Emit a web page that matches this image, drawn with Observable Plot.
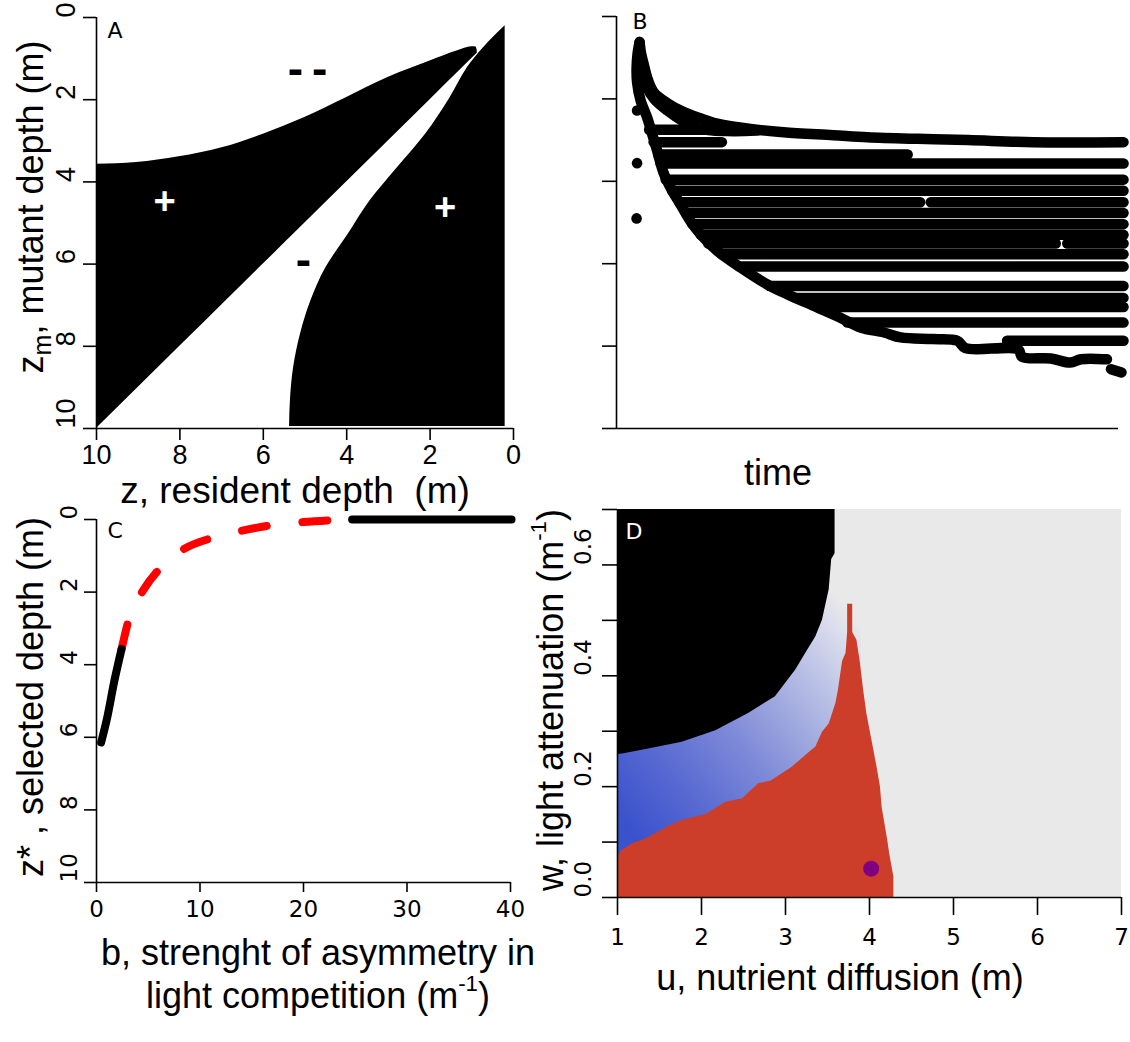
<!DOCTYPE html>
<html>
<head>
<meta charset="utf-8">
<script src="https://cdn.jsdelivr.net/npm/d3@7"></script>
<script src="https://cdn.jsdelivr.net/npm/@observablehq/plot@0.6"></script>
<style>
  html, body { margin: 0; padding: 0; background: #fff; }
  #fig { position: relative; width: 1130px; height: 1042px; overflow: hidden; background: #fff;
         font-family: "Liberation Sans", Arial, sans-serif; color: #000; }
  .panel { position: absolute; }
  .lab { position: absolute; white-space: pre; font-size: 36px; line-height: 1;
         transform: translate(-50%, -50%); }
  .lab.rot { transform: translate(-50%, -50%) rotate(-90deg); }
  .lab sup { font-size: 0.62em; vertical-align: 0.75em; line-height: 0; }
  .lab sub { font-size: 0.7em; vertical-align: -0.3em; line-height: 0; }
</style>
</head>
<body>
<div id="fig"></div>
<script>
// ---------------- Panel A : invasion fitness sign map ----------------
const aTicks = [0, 2, 4, 6, 8, 10];
// upper-left black region: resident depth z and its upper boundary zm (lower boundary is zm = z)
const aLeftZ   = [10, 9.04, 8.02, 6.99, 6.0, 5.02, 4.01, 3.01, 2.0, 1.34, 1.0, 0.9, 0.87];
const aLeftTop = [3.57, 3.53, 3.39, 3.17, 2.84, 2.44, 1.95, 1.46, 1.06, 0.81, 0.71, 0.72, 0.80];
// right black region: mutant depth zm and its left boundary z (right edge at aEdgeZ)
const aRightZm = [0.2, 0.6, 1.1, 2.0, 2.84, 3.65, 4.46, 5.3, 6.09, 6.9, 7.71, 8.5, 9.33, 9.95];
const aRightZ  = [0.2, 0.6, 1.02, 1.55, 2.11, 2.78, 3.44, 3.98, 4.5, 4.86, 5.11, 5.27, 5.35, 5.37];
const aEdgeZ = 0.2;
const aDashZ  = [5.23, 4.65, 5.04];
const aDashZm = [1.27, 1.27, 5.91];
const aPlusZ  = [8.37, 1.64];
const aPlusZm = [4.49, 4.63];

// ---------------- Panel B : branching of depth traits through time ----------------
const bTicks = [0, 2, 4, 6, 8, 10];
const bUpper = [[4.6,0.62],[4.9,0.9],[5.4,1.15],[6.3,1.55],[7.5,1.85],[10.1,2.1],[13.4,2.32],[16.7,2.47],
  [20.1,2.6],[26.7,2.73],[33.3,2.81],[43.2,2.88],[50,2.93],[60,2.97],[70,3.0],[83,3.05],[101,3.05]];
const bLower = [[4.6,0.62],[4.2,0.9],[4.0,1.25],[4.1,1.6],[4.8,2.04],[6.1,2.45],[7.1,2.85],[8.1,3.26],
  [9.4,3.8],[11.1,4.23],[12.7,4.55],[14.7,4.96],[16.7,5.28],[20.1,5.69],[24.7,6.09],[30,6.5],[34,6.74],
  [40,7.06],[44.6,7.31],[48.6,7.55],[53.3,7.67],[56.6,7.79],[63,7.83],[67.9,7.87],[69.5,8.05],[80,8.08],
  [80.8,8.26],[86.5,8.3],[90.4,8.4],[92.5,8.32],[97.7,8.32]];
const bInner = [[5.0,1.3],[6.0,1.7],[7.5,2.0],[10.1,2.28],[13.4,2.55],[16.5,2.72],[22,2.78],[28,2.77]];
const bTail  = [[98.5,8.56],[100.6,8.64]];
const bSegD  = [2.75, 3.05, 3.35, 3.57, 3.96, 4.23, 4.51, 4.51, 4.77, 5.04, 5.30, 5.51, 5.51, 5.77, 6.07, 6.54, 6.83, 7.05, 7.43, 7.87];
const bSegT0 = [6.5,  7.4,  8.3,  8.8,  9.8,  11.1, 12.5, 62.6, 13.8, 15.1, 16.8, 18.3, 89.8, 21,   24.6, 30.5, 36,   40,   46,   77.8];
const bSegT1 = [21,   21,   58,   101,  101,  101,  60.5, 101,  101,  101,  101,  87.5, 101,  101,  101,  101,  101,  101,  101,  101];
const bDotT = [4.1, 4.1, 4.0];
const bDotD = [2.28, 3.56, 4.9];

// ---------------- Panel C : selected depth vs asymmetry ----------------
const cTicksX = [0, 10, 20, 30, 40];
const cTicksY = [0, 2, 4, 6, 8, 10];
const cSolid1B = [0.45, 1.04, 1.73, 2.42];
const cSolid1Z = [6.14, 5.45, 4.44, 3.57];
const cDashB = [2.42, 3.28, 4.49, 6.39, 8.47, 11.4, 14.2, 17.1, 20.0, 23.2];
const cDashZ = [3.57, 2.60, 1.96, 1.27, 0.81, 0.49, 0.30, 0.15, 0.07, 0.01];
const cSolid2B = [24.7, 40.1];
const cSolid2Z = [0, 0];

// ---------------- Panel D : outcome map over (u, w) ----------------
const dTicksX = [1, 2, 3, 4, 5, 6, 7];
const dTicksY = [0, 0.1, 0.2, 0.3, 0.4, 0.5, 0.6, 0.7];
const dLabelsY = [0, 0.2, 0.4, 0.6];
const dBlackU = [1.0, 1.06, 1.37, 1.77, 2.17, 2.56, 2.88, 3.12, 3.24, 3.36, 3.44, 3.52, 3.55, 3.59, 3.59];
const dBlackW = [0.258, 0.259, 0.268, 0.28, 0.301, 0.332, 0.362, 0.41, 0.44, 0.47, 0.50, 0.555, 0.61, 0.62, 0.70];
const dRedU = [1.0, 1.05, 1.19, 1.33, 1.63, 1.77, 2.06, 2.29, 2.49, 2.68, 2.83, 3.08, 3.31, 3.36, 3.44, 3.52,
  3.60, 3.63, 3.68, 3.72, 3.74, 3.74, 3.80, 3.80, 3.85, 3.89, 3.93, 3.97, 4.03, 4.09, 4.13, 4.15, 4.19, 4.22, 4.24, 4.29, 4.29];
const dRedW = [0.072, 0.085, 0.098, 0.105, 0.130, 0.139, 0.150, 0.172, 0.178, 0.205, 0.210, 0.235, 0.265, 0.271, 0.298, 0.313,
  0.35, 0.374, 0.426, 0.44, 0.478, 0.529, 0.529, 0.478, 0.464, 0.425, 0.374, 0.33, 0.283, 0.235, 0.20, 0.163, 0.127, 0.10, 0.079, 0.037, 0];
const dDotU = [4.02];
const dDotW = [0.052];
const dGradFrom = [1.0, 0.15];
const dGradTo = [3.85, 0.5];
const dGradOffset = [0, 0.2, 0.45, 0.65, 0.8, 0.92, 1];
const dGradColor = ["#3a52cc", "#5567d1", "#7d89d8", "#a3acdf", "#c0c6e7", "#d9dcec", "#e9e9e9"];

// ---------------- helpers ----------------
const SANS = "Liberation Sans, Arial, sans-serif";
const DEJA = "DejaVu Sans, Verdana, sans-serif";
const fig = document.getElementById("fig");
function place(el, left, top) {
  const w = document.createElement("div");
  w.className = "panel"; w.style.left = left + "px"; w.style.top = top + "px";
  w.appendChild(el); fig.appendChild(w);
}
function label(html, cx, cy, rot, size) {
  const d = document.createElement("div");
  d.className = "lab" + (rot ? " rot" : "");
  d.style.left = cx + "px"; d.style.top = cy + "px";
  if (size) d.style.fontSize = size + "px";
  d.innerHTML = html; fig.appendChild(d);
}
const pstyle = {background: "transparent", overflow: "visible"};
const pair = {x: d => d[0], y: d => d[1]};

// ---------------- Panel A ----------------
const pA = Plot.plot({
  width: 560, height: 500, marginLeft: 96, marginRight: 47, marginTop: 17, marginBottom: 72,
  style: pstyle,
  x: {domain: [0, 10], reverse: true, label: null},
  y: {domain: [0, 10], reverse: true, label: null},
  marks: [
    Plot.areaY(aLeftZ, {x: z => z, y1: (z, i) => aLeftTop[i], y2: z => z, fill: "black", curve: "monotone-x"}),
    Plot.areaX(aRightZm, {y: zm => zm, x1: (zm, i) => aRightZ[i], x2: () => aEdgeZ, fill: "black", curve: "monotone-y"}),
    Plot.text(aDashZ, {x: d => d, y: (d, i) => aDashZm[i], text: () => "-", fontSize: 46, fontWeight: "bold", fontFamily: SANS, fill: "black"}),
    Plot.text(aPlusZ, {x: d => d, y: (d, i) => aPlusZm[i], text: () => "+", fontSize: 38, fontWeight: "bold", fontFamily: SANS, fill: "white"}),
    Plot.ruleX([10], {y1: 0, y2: 10, strokeWidth: 1.6}),
    Plot.ruleY([10], {x1: 10, x2: 0, strokeWidth: 1.6}),
    Plot.axisX({ticks: aTicks, tickSize: 12, tickPadding: 4, fontSize: 27, fontFamily: SANS, strokeWidth: 1.6, label: null, tickFormat: d => String(d)}),
    Plot.axisY({ticks: aTicks, tickSize: 13, tickFormat: () => "", strokeWidth: 1.6, label: null}),
    Plot.text(aTicks, {y: d => d, text: d => String(d), frameAnchor: "left", dx: -30, rotate: -90, fontSize: 27, fontFamily: SANS}),
    Plot.text(["A"], {text: d => d, frameAnchor: "top-left", dx: 11, dy: 5, textAnchor: "start", lineAnchor: "top", fontSize: 22, fontFamily: DEJA})
  ]
});
place(pA, 0, 0);

// ---------------- Panel B ----------------
const lineOpts = {...pair, strokeWidth: 10.5, strokeLinecap: "round", strokeLinejoin: "round", curve: "catmull-rom"};
const pB = Plot.plot({
  width: 570, height: 500, marginLeft: 56, marginRight: 12, marginTop: 16, marginBottom: 72,
  style: pstyle,
  x: {domain: [0, 100], axis: null, label: null},
  y: {domain: [0, 10], reverse: true, label: null},
  marks: [
    Plot.line(bUpper, lineOpts),
    Plot.line(bLower, lineOpts),
    Plot.line(bInner, lineOpts),
    Plot.line(bTail, lineOpts),
    Plot.link(bSegD, {x1: (d, i) => bSegT0[i], x2: (d, i) => bSegT1[i], y1: d => d, y2: d => d,
      strokeWidth: 10.5, strokeLinecap: "round", stroke: "black"}),
    Plot.dot(bDotT, {x: d => d, y: (d, i) => bDotD[i], r: 5.3, fill: "black"}),
    Plot.ruleX([0], {y1: 0, y2: 10, strokeWidth: 1.6}),
    Plot.ruleY([10], {x1: 0, x2: 100, strokeWidth: 1.6}),
    Plot.axisY({ticks: bTicks, tickSize: 14, tickFormat: () => "", strokeWidth: 1.6, label: null}),
    Plot.text(["B"], {text: d => d, frameAnchor: "top-left", dx: 16, dy: -3, textAnchor: "start", lineAnchor: "top", fontSize: 22, fontFamily: DEJA})
  ]
});
place(pB, 560, 0);

// ---------------- Panel C ----------------
const pC = Plot.plot({
  width: 560, height: 542, marginLeft: 96, marginRight: 50, marginTop: 19, marginBottom: 160,
  style: pstyle,
  x: {domain: [0, 40], label: null},
  y: {domain: [0, 10], reverse: true, label: null},
  marks: [
    Plot.line(cDashB, {x: d => d, y: (d, i) => cDashZ[i], stroke: "#ff0000", strokeWidth: 8, strokeLinecap: "round",
      strokeDasharray: "25,36", curve: "monotone-x"}),
    Plot.line(cSolid1B, {x: d => d, y: (d, i) => cSolid1Z[i], stroke: "black", strokeWidth: 8, strokeLinecap: "round", curve: "monotone-x"}),
    Plot.line(cSolid2B, {x: d => d, y: (d, i) => cSolid2Z[i], stroke: "black", strokeWidth: 8, strokeLinecap: "round"}),
    Plot.ruleX([0], {y1: 0, y2: 10, strokeWidth: 1.6}),
    Plot.ruleY([10], {x1: 0, x2: 40, strokeWidth: 1.6}),
    Plot.axisX({ticks: cTicksX, tickSize: 10, tickPadding: 8, fontSize: 23, fontFamily: DEJA, strokeWidth: 1.6, label: null, tickFormat: d => String(d)}),
    Plot.axisY({ticks: cTicksY, tickSize: 12, tickFormat: () => "", strokeWidth: 1.6, label: null}),
    Plot.text(cTicksY, {y: d => d, text: d => String(d), frameAnchor: "left", dx: -27, rotate: -90, fontSize: 23, fontFamily: DEJA}),
    Plot.text(["C"], {text: d => d, frameAnchor: "top-left", dx: 11, dy: 3, textAnchor: "start", lineAnchor: "top", fontSize: 22, fontFamily: DEJA})
  ]
});
place(pC, 0, 500);

// ---------------- Panel D ----------------
const pD = Plot.plot({
  width: 570, height: 542, marginLeft: 57, marginRight: 9, marginTop: 9, marginBottom: 145,
  style: pstyle,
  x: {domain: [1, 7], label: null},
  y: {domain: [0, 0.7], label: null},
  marks: [
    Plot.rect([0], {x1: 1, x2: 7, y1: 0, y2: 0.7, fill: "#e9e9e9"}),
    Plot.rect([0], {x1: 1, x2: 3.9, y1: 0, y2: 0.7, fill: "url(#dBlue)"}),
    Plot.areaY(dBlackU, {x: d => d, y1: (d, i) => dBlackW[i], y2: 0.7, fill: "black"}),
    Plot.areaY(dRedU, {x: d => d, y1: 0, y2: (d, i) => dRedW[i], fill: "#cc3d2a"}),
    Plot.dot(dDotU, {x: d => d, y: (d, i) => dDotW[i], r: 8, fill: "#800080"}),
    Plot.ruleX([1], {y1: 0, y2: 0.7, strokeWidth: 1.6}),
    Plot.ruleY([0], {x1: 1, x2: 7, strokeWidth: 1.6}),
    Plot.axisX({ticks: dTicksX, tickSize: 18, tickPadding: 13, fontSize: 23, fontFamily: DEJA, strokeWidth: 1.6, label: null, tickFormat: d => String(d)}),
    Plot.axisY({ticks: dTicksY, tickSize: 15, tickFormat: () => "", strokeWidth: 1.6, label: null}),
    Plot.text(dLabelsY, {y: d => d, text: d => d.toFixed(1), frameAnchor: "left", dx: -34, rotate: -90, fontSize: 23, fontFamily: DEJA}),
    Plot.text(["D"], {text: d => d, frameAnchor: "top-left", dx: 8, dy: 14, textAnchor: "start", lineAnchor: "top", fontSize: 22, fontFamily: DEJA, fill: "white"})
  ]
});
{
  const ns = "http://www.w3.org/2000/svg";
  const xs = pD.scale("x"), ys = pD.scale("y");
  const defs = document.createElementNS(ns, "defs");
  const lg = document.createElementNS(ns, "linearGradient");
  lg.setAttribute("id", "dBlue");
  lg.setAttribute("gradientUnits", "userSpaceOnUse");
  lg.setAttribute("x1", xs.apply(dGradFrom[0])); lg.setAttribute("y1", ys.apply(dGradFrom[1]));
  lg.setAttribute("x2", xs.apply(dGradTo[0]));   lg.setAttribute("y2", ys.apply(dGradTo[1]));
  dGradOffset.forEach((o, i) => {
    const s = document.createElementNS(ns, "stop");
    s.setAttribute("offset", o); s.setAttribute("stop-color", dGradColor[i]);
    lg.appendChild(s);
  });
  defs.appendChild(lg);
  pD.insertBefore(defs, pD.firstChild);
}
place(pD, 560, 500);

// ---------------- axis titles ----------------
label("z<sub>m</sub>, mutant depth (m)", 31, 207, true);
label("z, resident depth  (m)", 295, 490, false, 37);
label("time", 778, 473, false);
label("z* , selected depth (m)", 31, 697, true);
label("b, strenght of asymmetry in", 318, 953, false);
label("light competition (m<sup>-1</sup>)", 318, 996, false);
label("w, light attenuation (m<sup>-1</sup>)", 551, 700, true);
label("u, nutrient diffusion (m)", 840, 978, false);
</script>
</body>
</html>
